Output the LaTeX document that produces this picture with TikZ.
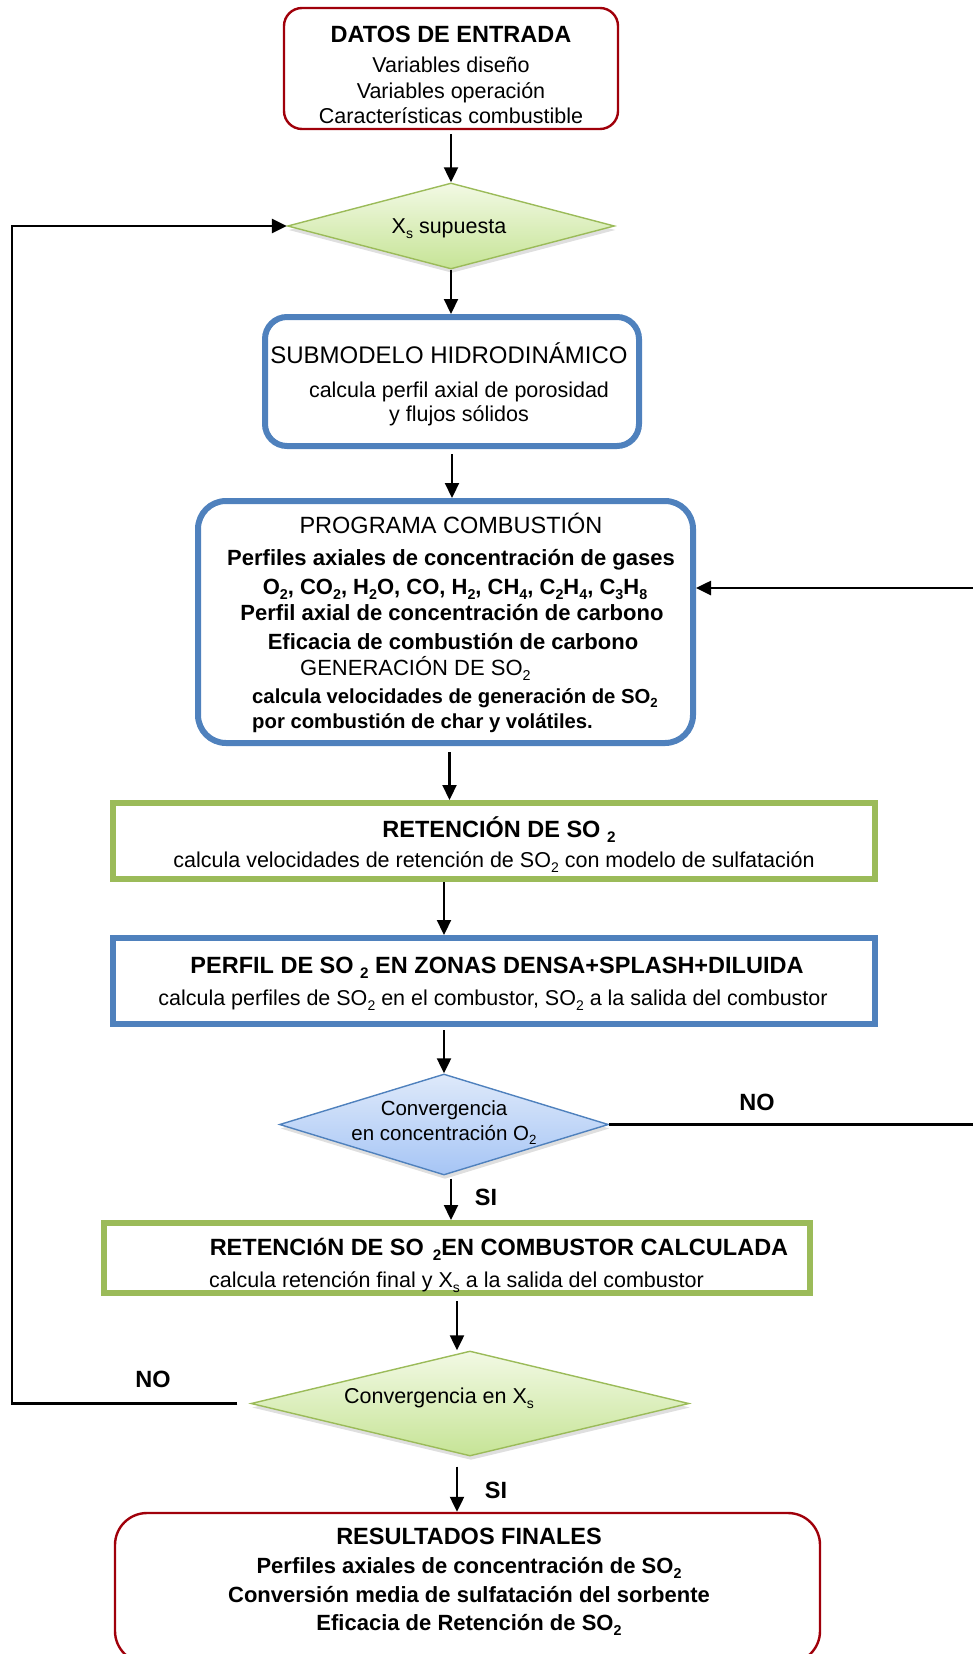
\documentclass[tikz,border=0pt]{standalone}
\usepackage{fontspec}
\setmainfont{Liberation Sans}
\usepackage{graphicx}
\usetikzlibrary{arrows.meta,shapes.geometric,shadows}
\definecolor{rojo}{RGB}{160,0,10}
\definecolor{azul}{RGB}{79,129,189}
\definecolor{verde}{RGB}{155,187,89}
\definecolor{verdeclaro}{RGB}{242,249,228}
\definecolor{verdemed}{RGB}{198,228,150}
\definecolor{azulclaro}{RGB}{222,233,250}
\definecolor{azulmed}{RGB}{166,197,245}
\newcommand{\dn}[1]{\raisebox{-0.45ex}{\scalebox{0.65}{#1}}}

\begin{document}
\begin{tikzpicture}[x=1pt,y=-1pt,>={Triangle[length=15pt,width=14pt]},
  flecha/.style={->,line width=2.2pt},
  linea/.style={line width=2.6pt},
  cajaroja/.style={draw=rojo,line width=2.4pt,inner sep=0pt},
  cajaazul/.style={draw=azul,line width=6pt,inner sep=0pt},
  cajaverde/.style={draw=verde,line width=6pt,inner sep=0pt},
  decision/.style={diamond,inner sep=0pt,line width=1.4pt,
    drop shadow={opacity=0.25,shadow xshift=1pt,shadow yshift=-4pt}},
  decverde/.style={decision,draw=verde,top color=verdeclaro,bottom color=verdemed},
  decazul/.style={decision,draw=azul,top color=azulclaro,bottom color=azulmed},
  reg/.style={font=\fontsize{21.5}{26}\selectfont,inner sep=0pt,anchor=base},
  negr/.style={font=\fontsize{22}{26}\selectfont\bfseries,inner sep=0pt,anchor=base},
  chico/.style={font=\fontsize{20.3}{24}\selectfont\bfseries,inner sep=0pt,anchor=base west},
  tit/.style={font=\fontsize{23.5}{28}\selectfont\bfseries,inner sep=0pt,anchor=base}]
\useasboundingbox (0,0) rectangle (972,1654);

% cajas del diagrama
\node[cajaroja,rounded corners=18pt,minimum width=334pt,minimum height=121pt] (datos) at (451,68.5) {};
\node[decverde,minimum width=327pt,minimum height=86pt] (xsup) at (451,226) {};
\node[cajaazul,rounded corners=22pt,minimum width=374pt,minimum height=129pt] (sub) at (452,381.5) {};
\node[cajaazul,rounded corners=28pt,minimum width=495pt,minimum height=242pt] (prog) at (445.5,622) {};
\node[cajaverde,minimum width=762pt,minimum height=76pt] (ret) at (494,841) {};
\node[cajaazul,minimum width=762pt,minimum height=86pt] (perfil) at (494,981) {};
\node[decazul,minimum width=329pt,minimum height=101pt] (o2) at (444,1124.5) {};
\node[cajaverde,minimum width=706pt,minimum height=70pt] (retcalc) at (457,1258) {};
\node[decverde,minimum width=438pt,minimum height=105pt] (xs) at (470,1403.5) {};
\node[cajaroja,rounded corners=32pt,minimum width=705pt,minimum height=150pt] (res) at (467.5,1588) {};

% textos
\node[tit] (datos-t) at (451,43) {DATOS DE ENTRADA};
\node[reg] (datos-a) at (451,72) {Variables diseño};
\node[reg] (datos-b) at (451,98) {Variables operación};
\node[reg] (datos-c) at (451,123) {Características combustible};

\node[reg] (xsup-t) at (449,233) {X\dn{s} supuesta};

\node[reg,font=\fontsize{24}{28}\selectfont] (sub-t) at (449,363) {SUBMODELO HIDRODINÁMICO};
\node[reg] (sub-a) at (459,397) {calcula perfil axial de porosidad};
\node[reg] (sub-b) at (459,421) {y flujos sólidos};

\node[reg,font=\fontsize{23.5}{28}\selectfont] (prog-t) at (451,533) {PROGRAMA COMBUSTIÓN};
\node[negr] (prog-a) at (451,565) {Perfiles axiales de concentración de gases};
\node[negr] (prog-b) at (455,594) {O\dn{2}, CO\dn{2}, H\dn{2}O, CO, H\dn{2}, CH\dn{4}, C\dn{2}H\dn{4}, C\dn{3}H\dn{8}};
\node[negr] (prog-c) at (452,620) {Perfil axial de concentración de carbono};
\node[negr] (prog-d) at (453,649) {Eficacia de combustión de carbono};
\node[reg,anchor=base west,font=\fontsize{22}{26}\selectfont] (prog-e) at (300,675) {GENERACIÓN DE SO\dn{2}};
\node[chico] (prog-f) at (252,703) {calcula velocidades de generación de SO\dn{2}};
\node[chico] (prog-g) at (252,728) {por combustión de char y volátiles.};

\node[tit] (ret-t) at (499,837) {RETENCIÓN DE SO \dn{2}};
\node[reg] (ret-a) at (494,867) {calcula velocidades de retención de SO\dn{2} con modelo de sulfatación};

\node[tit] (perfil-t) at (497,973) {PERFIL DE SO \dn{2} EN ZONAS DENSA+SPLASH+DILUIDA};
\node[reg] (perfil-a) at (493,1005) {calcula perfiles de SO\dn{2} en el combustor, SO\dn{2} a la salida del combustor};

\node[reg,font=\fontsize{20.5}{24}\selectfont] (o2-a) at (444,1115) {Convergencia};
\node[reg,font=\fontsize{20.5}{24}\selectfont] (o2-b) at (444,1140) {en concentración O\dn{2}};

\node[tit] (retcalc-t) at (499,1255) {RETENCIóN DE SO\hspace{9pt}\dn{2}EN COMBUSTOR CALCULADA};
\node[reg,anchor=base west] (retcalc-a) at (209,1287) {calcula retención final y X\dn{s} a la salida del combustor};

\node[reg] (xs-t) at (439,1403) {Convergencia en X\dn{s}};

\node[tit] (res-t) at (469,1544) {RESULTADOS FINALES};
\node[negr] (res-a) at (469,1573) {Perfiles axiales de concentración de SO\dn{2}};
\node[negr] (res-b) at (469,1602) {Conversión media de sulfatación del sorbente};
\node[negr] (res-c) at (469,1630) {Eficacia de Retención de SO\dn{2}};

% flechas
\draw[flecha] ([yshift=-4pt]datos.south -| xsup.north) -- (xsup.north);
\draw[flecha] (xsup.south) -- (xsup.south |- sub.north);
\draw[flecha] ([yshift=-5pt]sub.south) -- (sub.south |- prog.north);
\draw[flecha] ([xshift=4pt,yshift=-6pt]prog.south) -- ([xshift=4pt]prog.south |- ret.north);
\draw[flecha] (ret.south -| o2.north) -- (o2.north |- perfil.north);
\draw[flecha] ([yshift=-3pt]perfil.south -| o2.north) -- (o2.north);
\draw[flecha] ([xshift=7pt,yshift=-3pt]o2.south) -- ([xshift=7pt]o2.south |- retcalc.north);
\draw[flecha] ([yshift=-5pt]retcalc.south) -- (retcalc.south |- xs.north);
\draw[flecha] ([yshift=-10pt]xs.south -| retcalc.south) -- (retcalc.south |- res.north);

% lazos de retorno
\coordinate (retorno) at (990,588);
\draw[linea,->] (o2.east) -- (retorno |- o2.east) -- (retorno) -- (prog.east |- retorno);
\draw[linea,->] ([xshift=-13pt]xs.west) -- (12,1403.5) |- (xsup.west);

\node[tit] (no1) at (757,1110) {NO};
\node[tit] (si1) at (486,1205) {SI};
\node[tit] (no2) at (153,1387) {NO};
\node[tit] (si2) at (496,1498) {SI};
\end{tikzpicture}
\end{document}
